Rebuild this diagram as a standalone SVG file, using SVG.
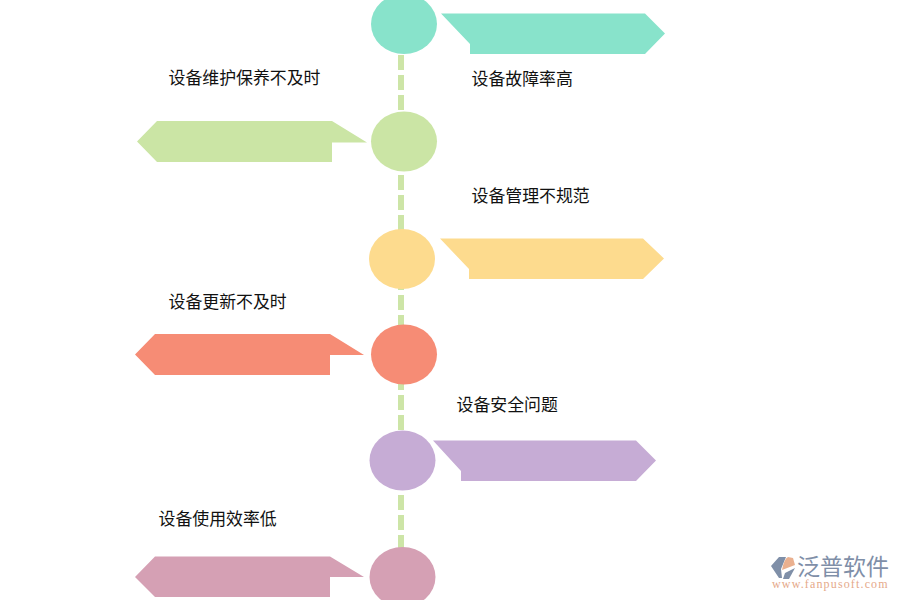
<svg xmlns="http://www.w3.org/2000/svg" width="900" height="600" viewBox="0 0 900 600">
<style>
.t{font-family:"Noto Sans CJK SC","Liberation Sans",sans-serif;font-size:16.9px;fill:#111}
</style>
<rect width="900" height="600" fill="#fff"/>
<g id="connectors"><line x1="401" y1="55" x2="401" y2="550" stroke="#cde5a7" stroke-width="6" stroke-dasharray="15 5"/></g>
<g id="n1" fill="#88e3cb"><ellipse cx="404" cy="24" rx="33" ry="30"/><polygon points="441,13.500 645,13.500 665,33.500 645,54 470,54 470,44"/><text class="t" x="471.500" y="84.500">设备故障率高</text></g>
<g id="n2" fill="#cbe5a5"><ellipse cx="404" cy="141.500" rx="33" ry="30"/><polygon points="137,141.500 157,121 332,121 367,142.500 332,142.500 332,162 157,162"/><text class="t" x="168.500" y="83.500">设备维护保养不及时</text></g>
<g id="n3" fill="#fddb8e"><ellipse cx="402" cy="259" rx="33" ry="30"/><polygon points="440,238.500 643,238.500 664,258.500 643,279 469,279 469,269"/><text class="t" x="471.500" y="201.500">设备管理不规范</text></g>
<g id="n4" fill="#f68c75"><ellipse cx="404" cy="354.500" rx="33" ry="30"/><polygon points="135,354.500 155,334 330,334 364,355 330,355 330,375 155,375"/><text class="t" x="168.500" y="307.500">设备更新不及时</text></g>
<g id="n5" fill="#c6acd5"><ellipse cx="402.500" cy="460.500" rx="33" ry="30"/><polygon points="433,440.500 636,440.500 656,460.500 636,481 461,481 461,471"/><text class="t" x="456.500" y="410.500">设备安全问题</text></g>
<g id="n6" fill="#d5a0b4"><ellipse cx="402.500" cy="577" rx="33" ry="30"/><polygon points="135,577 155,556.500 330,556.500 364,577 330,577 330,597 155,597"/><text class="t" x="158.500" y="525">设备使用效率低</text></g>
<g id="logo">
<polygon points="779,557 786,557 781,569 782,578 779,578 771,566" fill="#7f8fa8"/>
<path d="M782,570 Q784,559 788,557 L793,558 L795,565 Z" fill="#eab08f"/>
<path d="M783,579 L789,579 L795,568 L785,573 Z" fill="#7f8fa8"/>
<text x="797" y="575" font-family="'Noto Sans CJK SC',sans-serif" font-size="23" fill="#7f8fa8">泛普软件</text>
<text x="772" y="587.500" font-family="'Liberation Serif',serif" font-size="12" letter-spacing="1.150" fill="#e5a98a">www.fanpusoft.com</text>
</g>
</svg>
